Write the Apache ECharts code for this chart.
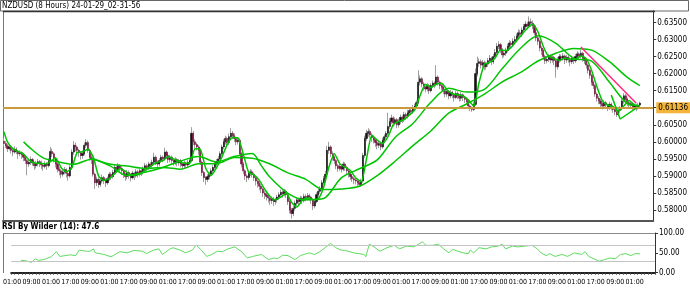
<!DOCTYPE html>
<html><head><meta charset="utf-8">
<script src="https://cdn.jsdelivr.net/npm/echarts@6/dist/echarts.min.js"></script>
<style>html,body{margin:0;padding:0;background:#fff;overflow:hidden}#c{width:690px;height:303px}</style>
</head><body><div id="c"></div>
<script>
const chartTitle = 'NZDUSD (8 Hours) 24-01-29_02-31-56';
const rsiTitle = 'RSI By Wilder (14): 47.6';
const lastPrice = 0.61136;
const priceTicks = [0.580,0.585,0.590,0.595,0.600,0.605,0.610,0.615,0.620,0.625,0.630,0.635];
const rsiTicks = [0,50,100];
const rsiGuides = [30,70];
const tickLabels = ["01:00","09:00","01:00","17:00","09:00","01:00","17:00","09:00","01:00","17:00","09:00","01:00","17:00","09:00","01:00","17:00","09:00","01:00","17:00","09:00","01:00","17:00","09:00","01:00","17:00","09:00","01:00","17:00","09:00","01:00","17:00","09:00","01:00"];
const categoryCount = 364;
const labelStep = 11;

// candles: [open, close, low, high] in 1/10000
const candles = [
[6002,5995,5987,6010],[5995,5988,5982,6003],[5988,5980,5970,5994],[5980,5985,5975,5992],[5985,5975,5966,5990],[5975,5970,5958,5981],[5970,5978,5965,5987],[5978,5972,5964,5984],[5972,5965,5950,5976],[5965,5968,5958,5975],
[5968,5962,5950,5972],[5962,5955,5943,5968],[5955,5945,5935,5960],[5945,5935,5902,5950],[5935,5940,5926,5948],[5940,5948,5932,5957],[5948,5938,5930,5953],[5938,5930,5918,5942],[5930,5935,5922,5944],[5935,5942,5928,5950],
[5942,5938,5926,5947],[5938,5932,5920,5945],[5932,5928,5915,5938],[5928,5935,5922,5943],[5935,5930,5918,5940],[5930,5945,5925,5952],[5945,5972,5940,5985],[5972,5965,5955,5980],[5965,5950,5940,5970],[5950,5935,5925,5955],
[5935,5920,5910,5940],[5920,5915,5902,5927],[5915,5905,5893,5920],[5905,5912,5898,5920],[5912,5918,5905,5926],[5918,5908,5895,5922],[5908,5900,5886,5913],[5900,5925,5895,5932],[5925,5970,5918,5978],[5970,5990,5962,6002],
[5990,5985,5972,5998],[5985,5975,5964,5990],[5975,5968,5955,5980],[5968,5960,5948,5972],[5960,5965,5950,5975],[5965,5990,5960,5998],[5990,5998,5982,6008],[5998,5975,5968,6004],[5975,5955,5945,5980],[5955,5948,5935,5962],
[5948,5905,5898,5955],[5905,5880,5862,5910],[5880,5890,5870,5898],[5890,5875,5865,5896],[5875,5885,5868,5893],[5885,5895,5878,5904],[5895,5888,5876,5900],[5888,5880,5868,5893],[5880,5892,5874,5898],[5892,5905,5886,5912],
[5905,5898,5888,5910],[5898,5910,5892,5918],[5910,5925,5905,5933],[5925,5918,5908,5930],[5918,5930,5912,5938],[5930,5922,5912,5935],[5922,5915,5903,5928],[5915,5905,5894,5920],[5905,5898,5886,5910],[5898,5910,5890,5918],
[5910,5902,5892,5916],[5902,5895,5884,5908],[5895,5908,5890,5915],[5908,5900,5888,5912],[5900,5912,5895,5920],[5912,5905,5895,5918],[5905,5915,5898,5922],[5915,5910,5900,5920],[5910,5920,5904,5928],[5920,5930,5912,5938],
[5930,5925,5915,5936],[5925,5935,5918,5942],[5935,5930,5920,5940],[5930,5940,5924,5948],[5940,5955,5935,5968],[5955,5940,5932,5960],[5940,5935,5925,5946],[5935,5945,5928,5952],[5945,5955,5938,5962],[5955,5950,5940,5960],
[5950,5970,5945,5983],[5970,5960,5950,5975],[5960,5948,5938,5965],[5948,5955,5940,5962],[5955,5945,5935,5960],[5945,5940,5930,5950],[5940,5948,5932,5955],[5948,5938,5928,5952],[5938,5945,5930,5950],[5945,5935,5925,5950],
[5935,5930,5918,5940],[5930,5938,5922,5945],[5938,5932,5922,5942],[5932,5940,5926,5948],[5940,5945,5932,5952],[5945,6025,5940,6043],[6025,6000,5990,6032],[6000,5992,5980,6008],[5992,5985,5975,5998],[5985,5975,5962,5990],
[5975,5940,5932,5980],[5940,5910,5900,5945],[5910,5895,5882,5915],[5895,5890,5874,5900],[5890,5898,5882,5905],[5898,5905,5890,5912],[5905,5915,5898,5922],[5915,5925,5908,5932],[5925,5935,5918,5942],[5935,5942,5928,5950],
[5942,5950,5935,5958],[5950,5965,5944,5972],[5965,5985,5958,5992],[5985,6000,5978,6008],[6000,6010,5992,6018],[6010,5998,5988,6015],[5998,6015,5990,6024],[6015,6025,6008,6040],[6025,6018,6008,6032],[6018,6010,6000,6025],
[6010,6000,5990,6015],[6000,6005,5992,6012],[6005,5965,5958,6010],[5965,5935,5925,5970],[5935,5915,5905,5940],[5915,5900,5888,5920],[5900,5895,5882,5905],[5895,5908,5888,5915],[5908,5912,5900,5920],[5912,5905,5895,5918],
[5905,5895,5885,5910],[5895,5885,5872,5900],[5885,5878,5866,5890],[5878,5870,5858,5884],[5870,5862,5850,5876],[5862,5850,5838,5866],[5850,5845,5832,5856],[5845,5840,5828,5850],[5840,5835,5822,5846],[5835,5828,5815,5840],
[5828,5832,5818,5840],[5832,5825,5812,5838],[5825,5830,5816,5836],[5830,5838,5822,5845],[5838,5845,5830,5852],[5845,5852,5838,5860],[5852,5848,5836,5858],[5848,5855,5840,5862],[5855,5845,5835,5860],[5845,5825,5815,5850],
[5825,5800,5790,5830],[5800,5790,5775,5806],[5790,5805,5782,5812],[5805,5820,5798,5828],[5820,5830,5812,5838],[5830,5825,5815,5836],[5825,5835,5818,5842],[5835,5828,5818,5840],[5828,5840,5822,5848],[5840,5835,5825,5846],
[5835,5842,5828,5850],[5842,5838,5828,5848],[5838,5830,5818,5842],[5830,5812,5800,5835],[5812,5825,5805,5832],[5825,5845,5820,5852],[5845,5855,5838,5862],[5855,5862,5848,5870],[5862,5880,5856,5888],[5880,5892,5874,5900],
[5892,5905,5885,5915],[5905,5975,5900,5988],[5975,5985,5965,6000],[5985,5965,5955,5990],[5965,5955,5945,5972],[5955,5945,5935,5960],[5945,5930,5920,5950],[5930,5922,5912,5935],[5922,5928,5915,5935],[5928,5920,5910,5932],
[5920,5935,5914,5942],[5935,5925,5915,5940],[5925,5915,5905,5930],[5915,5905,5895,5920],[5905,5898,5888,5910],[5898,5892,5882,5904],[5892,5888,5876,5898],[5888,5885,5875,5895],[5885,5880,5870,5890],[5880,5875,5868,5888],
[5875,5885,5868,5892],[5885,5960,5880,5968],[5960,6010,5952,6018],[6010,6025,6002,6035],[6025,6030,6015,6040],[6030,6020,6010,6036],[6020,6012,6000,6026],[6012,6005,5995,6018],[6005,5998,5985,6010],[5998,5990,5978,6003],
[5990,5995,5982,6002],[5995,5985,5975,6000],[5985,6005,5980,6012],[6005,6015,5998,6022],[6015,6025,6008,6032],[6025,6045,6018,6085],[6045,6060,6038,6070],[6060,6070,6052,6080],[6070,6055,6045,6075],[6055,6065,6048,6072],
[6065,6050,6040,6070],[6050,6060,6042,6068],[6060,6072,6052,6080],[6072,6065,6055,6078],[6065,6080,6058,6088],[6080,6075,6065,6086],[6075,6085,6068,6094],[6085,6092,6078,6100],[6092,6088,6078,6098],[6088,6100,6082,6108],
[6100,6105,6092,6112],[6105,6115,6098,6122],[6115,6175,6110,6210],[6175,6185,6165,6195],[6185,6170,6160,6190],[6170,6160,6150,6176],[6160,6155,6145,6166],[6155,6165,6148,6172],[6165,6150,6140,6170],[6150,6165,6145,6172],
[6165,6172,6158,6180],[6172,6168,6158,6178],[6168,6190,6162,6225],[6190,6175,6165,6195],[6175,6165,6155,6180],[6165,6160,6150,6170],[6160,6150,6140,6165],[6150,6140,6130,6156],[6140,6148,6132,6155],[6148,6135,6125,6152],
[6135,6145,6128,6152],[6145,6138,6128,6150],[6138,6130,6118,6142],[6130,6142,6125,6150],[6142,6135,6125,6148],[6135,6128,6118,6140],[6128,6138,6120,6146],[6138,6130,6120,6142],[6130,6125,6114,6135],[6125,6118,6108,6130],
[6118,6105,6096,6122],[6105,6098,6090,6110],[6098,6095,6088,6104],[6095,6110,6090,6118],[6110,6200,6105,6215],[6200,6230,6192,6250],[6230,6235,6220,6245],[6235,6225,6215,6242],[6225,6232,6218,6240],[6232,6220,6210,6238],
[6220,6228,6212,6235],[6228,6238,6220,6246],[6238,6245,6230,6255],[6245,6235,6225,6250],[6235,6250,6228,6258],[6250,6262,6244,6272],[6262,6280,6255,6290],[6280,6285,6272,6295],[6285,6270,6260,6290],[6270,6255,6245,6275],
[6255,6260,6248,6268],[6260,6268,6252,6276],[6268,6280,6262,6288],[6280,6290,6272,6298],[6290,6285,6276,6296],[6285,6295,6278,6304],[6295,6300,6288,6310],[6300,6310,6292,6318],[6310,6320,6302,6330],[6320,6315,6305,6328],
[6315,6328,6308,6336],[6328,6338,6320,6346],[6338,6345,6330,6354],[6345,6340,6330,6352],[6340,6352,6334,6368],[6352,6348,6338,6362],[6348,6340,6330,6356],[6340,6320,6312,6345],[6320,6305,6295,6326],[6305,6295,6284,6310],
[6295,6275,6265,6300],[6275,6268,6255,6282],[6268,6250,6240,6272],[6250,6238,6228,6256],[6238,6242,6230,6250],[6242,6250,6234,6258],[6250,6240,6230,6256],[6240,6248,6232,6255],[6248,6238,6225,6252],[6238,6220,6188,6242],
[6220,6240,6212,6248],[6240,6250,6232,6258],[6250,6245,6235,6256],[6245,6252,6238,6260],[6252,6240,6228,6256],[6240,6248,6232,6255],[6248,6242,6232,6254],[6242,6235,6222,6248],[6235,6245,6228,6252],[6245,6238,6228,6250],
[6238,6250,6232,6258],[6250,6258,6242,6266],[6258,6252,6242,6262],[6252,6260,6245,6270],[6260,6245,6235,6264],[6245,6238,6228,6250],[6238,6225,6215,6242],[6225,6210,6200,6230],[6210,6195,6185,6215],[6195,6175,6165,6200],
[6175,6165,6155,6180],[6165,6140,6132,6170],[6140,6128,6118,6145],[6128,6120,6110,6134],[6120,6112,6102,6126],[6112,6105,6095,6118],[6105,6115,6098,6122],[6115,6108,6098,6120],[6108,6100,6090,6112],[6100,6110,6094,6118],
[6110,6102,6092,6115],[6102,6095,6085,6108],[6095,6088,6078,6100],[6088,6080,6073,6094],[6080,6092,6076,6098],[6092,6098,6085,6105],[6098,6120,6092,6128],[6120,6135,6112,6143],[6135,6125,6115,6140],[6125,6115,6105,6130],
[6115,6108,6098,6120],[6108,6112,6100,6118],[6112,6100,6092,6116],[6100,6105,6094,6112],[6105,6098,6090,6110],[6098,6108,6094,6114],[6108,6113.6,6102,6118]
];

// moving averages: [bar index, value in 1/10000]
const fastMA = [[0,6030],[2,6000],[5,5980],[8,5972],[11,5964],[14,5947],[17,5938],[20,5937],[23,5935],[26,5942],[29,5953],[32,5925],[35,5912],[38,5924],[41,5969],[44,5971],[47,5978],[50,5956],[53,5900],[56,5887],[59,5892],[62,5906],[65,5921],[68,5914],[71,5902],[74,5903],[77,5908],[80,5920],[83,5932],[86,5940],[89,5945],[92,5957],[95,5950],[98,5943],[101,5937],[104,5937],[107,5980],[110,5978],[113,5922],[116,5901],[119,5924],[122,5955],[125,5992],[128,6013],[131,6012],[134,5964],[137,5911],[140,5903],[143,5887],[146,5861],[149,5840],[152,5830],[155,5838],[158,5849],[161,5823],[164,5809],[167,5828],[170,5836],[173,5831],[176,5833],[179,5867],[182,5927],[185,5965],[188,5936],[191,5926],[194,5916],[197,5894],[200,5883],[203,5951],[206,6019],[209,6005],[212,5995],[215,6015],[218,6051],[221,6060],[224,6065],[227,6079],[230,6094],[233,6136],[236,6169],[239,6159],[242,6169],[245,6172],[248,6153],[251,6141],[254,6138],[257,6135],[260,6123],[263,6105],[266,6174],[269,6228],[272,6233],[275,6246],[278,6269],[281,6268],[284,6277],[287,6296],[290,6315],[293,6333],[296,6345],[299,6322],[302,6279],[305,6250],[308,6244],[311,6239],[314,6245],[317,6243],[320,6242],[323,6252],[326,6244],[329,6209],[332,6161],[335,6121],[338,6108],[341,6103],[344,6091],[347,6105],[350,6121],[353,6108],[356,6105]];
const midMA = [[11,6000],[16,5976],[22,5953],[29,5943],[39,5934],[49,5949],[59,5931],[69,5901],[79,5911],[89,5925],[99,5944],[109,5957],[119,5941],[129,5957],[139,5966],[144,5931],[149,5896],[159,5849],[169,5830],[179,5834],[189,5895],[199,5921],[209,5947],[219,6013],[229,6054],[239,6116],[249,6157],[259,6146],[269,6154],[279,6215],[289,6273],[299,6311],[309,6289],[319,6245],[329,6237],[339,6175],[349,6112],[356,6106]];
const slowMA = [[49,5952],[59,5935],[69,5929],[79,5922],[89,5925],[99,5920],[109,5936],[119,5936],[129,5954],[139,5952],[149,5935],[159,5909],[169,5890],[179,5860],[189,5862],[199,5870],[209,5901],[219,5943],[229,5989],[239,6032],[249,6084],[259,6111],[269,6140],[279,6176],[289,6203],[299,6237],[309,6260],[319,6274],[329,6269],[339,6235],[349,6189],[356,6165]];
const pinkLine = [[323,6278],[354,6113]];
const supportLine = [[340,6137],[345,6067],[354,6099]];

// RSI: [bar index, value]
const rsiPoints = [[5,31],[7,31],[8,32],[11,26],[13,35],[15,31],[18,33],[22,40],[25,53],[27,41],[30,43],[33,45],[36,43],[38,57],[39,60],[42,54],[44,54],[46,60],[47,50],[52,46],[56,40],[57,44],[61,53],[65,50],[69,56],[70,53],[74,54],[76,48],[80,57],[83,60],[85,46],[89,59],[91,63],[95,57],[98,50],[102,57],[104,70],[107,57],[110,41],[113,46],[116,54],[119,53],[122,60],[126,65],[130,52],[133,37],[136,41],[137,37],[141,46],[145,33],[148,37],[150,35],[153,44],[156,43],[160,33],[163,43],[165,46],[168,50],[171,46],[174,53],[177,63],[180,74],[183,63],[186,57],[188,56],[191,53],[193,50],[199,46],[200,40],[202,72],[204,67],[208,54],[212,63],[216,69],[219,60],[223,67],[227,65],[230,72],[232,78],[234,69],[238,69],[241,72],[244,60],[247,50],[249,59],[252,54],[255,50],[258,48],[259,57],[261,50],[264,63],[268,60],[271,65],[275,67],[277,72],[279,60],[283,67],[286,65],[290,67],[294,69],[297,60],[299,50],[302,43],[304,48],[307,41],[311,46],[314,41],[318,50],[322,46],[324,53],[326,41],[329,35],[332,29],[335,33],[338,37],[341,35],[344,46],[347,48],[350,43],[352,48],[355,47.6]];

const FONT = "'Liberation Sans Narrow','DejaVu Sans Condensed','Liberation Sans',sans-serif";
const P = v => v / 10000;
const cats = Array.from({length: categoryCount}, (_, i) => String(i));
const wickData = candles.map(c => c.map(P));
const bodyData = candles.map(c => [P(c[0]), P(c[1]), P(Math.min(c[0], c[1])), P(Math.max(c[0], c[1]))]);
const line = arr => arr.map(p => [p[0], P(p[1])]);

const chart = echarts.init(document.getElementById('c'), null, {renderer: 'canvas'});
const GREEN = '#00c400';
chart.setOption({
  animation: false,
  backgroundColor: '#ffffff',
  textStyle: {fontFamily: FONT},
  grid: [
    {left: 3, right: 35, top: 11, bottom: 82},
    {left: 3, right: 35, top: 233, bottom: 30.3}
  ],
  xAxis: [
    {type: 'category', gridIndex: 0, data: cats, boundaryGap: true,
     axisLine: {show: true, lineStyle: {color: '#555', width: 2}}, axisTick: {show: false}, axisLabel: {show: false}, splitLine: {show: false}},
    {type: 'category', gridIndex: 1, data: cats, boundaryGap: true,
     axisLine: {show: true, lineStyle: {color: '#222', width: 2}},
     axisTick: {show: true, interval: i => i % 2 === 0, length: 2, lineStyle: {color: '#444'}},
     axisLabel: {interval: i => i % labelStep === 0, showMinLabel: true, showMaxLabel: false, hideOverlap: false,
                 formatter: (v, i) => tickLabels[i / labelStep] || '', fontSize: 7, color: '#000', margin: 6, fontFamily: FONT},
     splitLine: {show: false}}
  ],
  yAxis: [
    {type: 'value', gridIndex: 0, position: 'right', min: 0.576789, max: 0.638372,
     axisLine: {show: true, lineStyle: {color: '#333'}},
     axisTick: {show: true, length: 3, customValues: priceTicks, lineStyle: {color: '#333'}},
     axisLabel: {customValues: priceTicks, formatter: v => v.toFixed(5), fontSize: 8, color: '#000', margin: 4, fontFamily: FONT},
     splitLine: {show: false}},
    {type: 'value', gridIndex: 1, position: 'right', min: 0, max: 100,
     axisLine: {show: true, lineStyle: {color: '#333'}},
     axisTick: {show: true, length: 3, customValues: rsiTicks, lineStyle: {color: '#333'}},
     axisLabel: {customValues: rsiTicks, formatter: v => v.toFixed(2), fontSize: 8, color: '#000', margin: 4, fontFamily: FONT},
     splitLine: {show: false}}
  ],
  graphic: [
    {type: 'rect', shape: {x: 0.5, y: 0.5, width: 688, height: 10.5}, style: {fill: 'none', stroke: '#666', lineWidth: 1}},
    {type: 'text', left: 2, top: 1.5, style: {text: chartTitle, font: '8px ' + FONT, fill: '#000'}},
    {type: 'line', shape: {x1: 3.5, y1: 11, x2: 3.5, y2: 221}, style: {stroke: '#777', lineWidth: 1}},
    {type: 'line', shape: {x1: 3, y1: 11.5, x2: 655, y2: 11.5}, style: {stroke: '#333', lineWidth: 1.5}},
    {type: 'text', left: 2, top: 223, style: {text: rsiTitle, font: 'bold 8px ' + FONT, fill: '#000'}},
    {type: 'line', shape: {x1: 3, y1: 233.5, x2: 655, y2: 233.5}, style: {stroke: '#888', lineWidth: 1}},
    {type: 'line', shape: {x1: 3.5, y1: 233, x2: 3.5, y2: 273}, style: {stroke: '#777', lineWidth: 1}}
  ],
  series: [
    {type: 'candlestick', name: 'wick', xAxisIndex: 0, yAxisIndex: 0, data: wickData, barWidth: 1, z: 2,
     itemStyle: {color: '#a0a0a0', color0: '#a0a0a0', borderColor: '#a0a0a0', borderColor0: '#a0a0a0', borderWidth: 1}},
    {type: 'candlestick', name: 'body', xAxisIndex: 0, yAxisIndex: 0, data: bodyData, barWidth: 1.6, z: 3,
     itemStyle: {color: '#111111', color0: '#7a1242', borderColor: '#111111', borderColor0: '#7a1242', borderWidth: 0.6}},
    {type: 'line', name: 'slow', xAxisIndex: 0, yAxisIndex: 0, data: line(slowMA), showSymbol: false, smooth: 0.3, z: 4,
     lineStyle: {color: GREEN, width: 1.5}},
    {type: 'line', name: 'mid', xAxisIndex: 0, yAxisIndex: 0, data: line(midMA), showSymbol: false, smooth: 0.3, z: 4,
     lineStyle: {color: GREEN, width: 1.5}},
    {type: 'line', name: 'fast', xAxisIndex: 0, yAxisIndex: 0, data: line(fastMA), showSymbol: false, smooth: 0.2, z: 4,
     lineStyle: {color: GREEN, width: 1.5}},
    {type: 'line', name: 'support', xAxisIndex: 0, yAxisIndex: 0, data: line(supportLine), showSymbol: false, z: 5,
     lineStyle: {color: GREEN, width: 1.5}},
    {type: 'line', name: 'pink', xAxisIndex: 0, yAxisIndex: 0, data: line(pinkLine), showSymbol: false, z: 5,
     lineStyle: {color: '#ff2a80', width: 1.5},
     markLine: {silent: true, symbol: 'none', animation: false,
       lineStyle: {color: '#c99a3e', width: 2, type: 'solid'},
       label: {show: true, position: 'end', distance: 3, formatter: () => lastPrice.toFixed(5), fontSize: 8, fontFamily: FONT,
               color: '#000', backgroundColor: '#f4b43a', padding: [2, 2, 1, 2]},
       data: [{yAxis: lastPrice}]}},
    {type: 'line', name: 'rsi', xAxisIndex: 1, yAxisIndex: 1, data: rsiPoints, showSymbol: false, z: 4,
     lineStyle: {color: '#5fdc5f', width: 1},
     markLine: {silent: true, symbol: 'none', animation: false, label: {show: false},
       lineStyle: {color: '#c4c4c4', width: 1, type: 'solid'},
       data: rsiGuides.map(v => ({yAxis: v}))}}
  ]
});
</script></body></html>
